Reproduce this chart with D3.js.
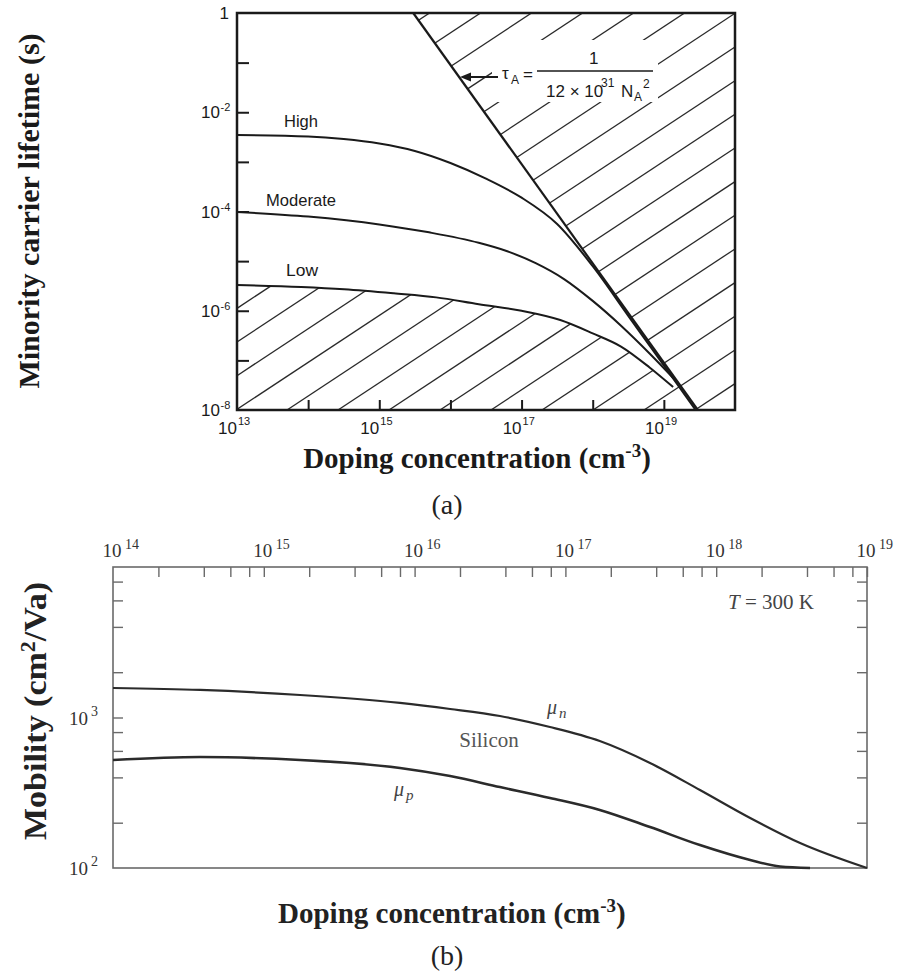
<!DOCTYPE html>
<html><head><meta charset="utf-8">
<script src="https://cdn.jsdelivr.net/npm/d3@7"></script>
<style>body{margin:0;background:#fff}svg{display:block}</style>
</head><body>
<svg id="c" width="899" height="975"></svg>
<script>
// ---------- DATA ----------
// (a) minority carrier lifetime vs doping
const highN   = [1e13, 1e14, 3.16e14, 1e15, 3.16e15, 1e16, 3.16e16, 1e17, 3.16e17, 1e18, 3.16e18, 1e19, 2.8e19];
const highTau = [3.47e-3, 3.24e-3, 2.88e-3, 2.34e-3, 1.66e-3, 9.5e-4, 4.6e-4, 1.9e-4, 5.6e-5, 7.9e-6, 7.9e-7, 7.9e-8, 1.0e-8];
const modN    = [1e13, 1e14, 1e15, 5e15, 2.5e16, 6.3e16, 1.58e17, 4e17, 1e18, 2.5e18, 6.3e18, 1.58e19];
const modTau  = [9.8e-5, 7.9e-5, 5.5e-5, 3.8e-5, 2.34e-5, 1.58e-5, 9.1e-6, 4.3e-6, 1.58e-6, 5.0e-7, 1.38e-7, 3.5e-8];
const lowN    = [1e13, 8e13, 3.2e14, 1.6e15, 6.3e15, 2.5e16, 1e17, 3.5e17, 1e18, 2.5e18, 6.3e18, 1.35e19];
const lowTau  = [3.3e-6, 3.0e-6, 2.7e-6, 2.24e-6, 1.86e-6, 1.35e-6, 1.0e-6, 6.5e-7, 3.5e-7, 1.9e-7, 7.2e-8, 2.9e-8];
const augerN   = [3e15, 3e19];
const augerTau = [1, 1e-8];
const curveLabelsA = ["High", "Moderate", "Low"];
const yTicksA = [-2, -4, -6, -8];           // labelled exponents (plus "1")
const xTicksA = [13, 15, 17, 19];           // labelled exponents
// (b) mobility vs doping, T = 300 K
const muNN = [1e14, 3.78e14, 1.74e15, 8.0e15, 1.72e16, 3.68e16, 7.9e16, 1.69e17, 3.64e17, 7.8e17, 1.68e18, 3.6e18, 1e19];
const muNV = [1570, 1524, 1411, 1249, 1139, 1023, 865, 698, 499, 330, 215, 146.6, 100];
const muPN = [1e14, 3.78e14, 1.74e15, 3.73e15, 8.0e15, 1.72e16, 3.68e16, 7.9e16, 1.69e17, 3.64e17, 7.8e17, 1.68e18, 2.65e18, 4.19e18];
const muPV = [522, 546, 522, 498, 462, 408, 345, 292, 243, 187, 142, 113, 102.3, 100];
const xTicksB = [14, 15, 16, 17, 18, 19];
const yTicksB = [2, 3];

// ---------- DRAW ----------
const svg = d3.select("#c");
const SANS = "'Liberation Sans', Arial, sans-serif";
const SERIF = "'Liberation Serif', 'Times New Roman', serif";
const zip = (a, b) => a.map((v, i) => [v, b[i]]);

// ===== (a) =====
const xA = d3.scaleLog().domain([1e13, 1e20]).range([237, 735]);
const yA = d3.scaleLog().domain([1e-8, 1]).range([410, 13]);
const ink = "#1a1a1a";
const gA = svg.append("g");
svg.append("defs").append("clipPath").attr("id", "clipA")
  .append("rect").attr("x", 237).attr("y", 13).attr("width", 498).attr("height", 397);

// hatch
const hatch = gA.append("g").attr("clip-path", "url(#clipA)");
const hx = d3.range(-14, 11).map(k => 287 + 51 * k);
hatch.selectAll("line").data(hx).join("line")
  .attr("x1", d => d).attr("y1", 410).attr("x2", d => d + 640).attr("y2", 410 - 0.66 * 640)
  .attr("stroke", "#2a2a2a").attr("stroke-width", 1.3);

const lineA = d3.line().x(d => xA(d[0])).y(d => yA(d[1])).curve(d3.curveMonotoneX);
const lowData = zip(lowN, lowTau);
// un-hatched region: above Low curve and left of Auger line
const p0 = [xA(augerN[0]), yA(augerTau[0])], p1 = [xA(augerN[1]), yA(augerTau[1])];
const xEnd = xA(lowN[lowN.length - 1]);
const tA = (xEnd - p0[0]) / (p1[0] - p0[0]);
const pA = [xEnd, p0[1] + tA * (p1[1] - p0[1])];
gA.append("path")
  .attr("d", lineA(lowData) + `L${pA[0]},${pA[1]}L${p0[0]},${p0[1]}L${xA(1e13)},${yA(1)}Z`)
  .attr("fill", "#fff").attr("clip-path", "url(#clipA)");

// white box behind formula
gA.append("rect").attr("x", 492).attr("y", 40).attr("width", 166).attr("height", 62).attr("fill", "#fff");

// curves
[[highN, highTau], [modN, modTau], [lowN, lowTau]].forEach(([n, t]) => {
  gA.append("path").attr("d", lineA(zip(n, t))).attr("fill", "none")
    .attr("stroke", ink).attr("stroke-width", 2);
});
gA.append("path").attr("d", d3.line().x(d => xA(d[0])).y(d => yA(d[1]))(zip(augerN, augerTau)))
  .attr("stroke", ink).attr("stroke-width", 2.2).attr("fill", "none");

// axes ticks
const decA = d3.range(-7, 0).map(e => Math.pow(10, e));
const axL = gA.append("g").attr("transform", `translate(${xA(1e13)},0)`)
  .call(d3.axisLeft(yA).tickValues(decA).tickSizeInner(-12).tickSizeOuter(0).tickFormat(""));
axL.select(".domain").remove();
axL.selectAll("line").attr("stroke", ink).attr("stroke-width", 2);
const decX = d3.range(14, 20).map(e => Math.pow(10, e));
const axB = gA.append("g").attr("transform", `translate(0,${yA(1e-8)})`)
  .call(d3.axisBottom(xA).tickValues(decX).tickSizeInner(-10).tickSizeOuter(0).tickFormat(""));
axB.select(".domain").remove();
axB.selectAll("line").attr("stroke", ink).attr("stroke-width", 2);

// frame
gA.append("rect").attr("x", 237).attr("y", 13).attr("width", 498).attr("height", 397)
  .attr("fill", "none").attr("stroke", ink).attr("stroke-width", 2.5);

// y tick labels
gA.append("text").attr("x", 229).attr("y", yA(1) + 6).attr("text-anchor", "end")
  .attr("font-family", SANS).attr("font-size", 17).attr("fill", ink).text("1");
yTicksA.forEach(e => {
  const y = yA(Math.pow(10, e));
  gA.append("text").attr("x", 220).attr("y", y + 6).attr("text-anchor", "end")
    .attr("font-family", SANS).attr("font-size", 17).attr("fill", ink).text("10");
  gA.append("text").attr("x", 220.5).attr("y", y - 1)
    .attr("font-family", SANS).attr("font-size", 11).attr("fill", ink).text(String(e));
});
// x tick labels
xTicksA.forEach(e => {
  const x = xA(Math.pow(10, e));
  gA.append("text").attr("x", x).attr("y", 434).attr("text-anchor", "end")
    .attr("font-family", SANS).attr("font-size", 17).attr("fill", ink).text("10");
  gA.append("text").attr("x", x + 1).attr("y", 425)
    .attr("font-family", SANS).attr("font-size", 11).attr("fill", ink).text(String(e));
});
// curve labels
curveLabelsA.forEach((t, i) => {
  gA.append("text").attr("x", [284, 266, 286][i]).attr("y", [127, 206, 276][i])
    .attr("font-family", SANS).attr("font-size", 17).attr("fill", ink)
    .attr("textLength", [34, 70, 32][i]).attr("lengthAdjust", "spacingAndGlyphs").text(t);
});

// formula + arrow
gA.append("line").attr("x1", 468).attr("y1", 77).attr("x2", 498).attr("y2", 77)
  .attr("stroke", ink).attr("stroke-width", 2);
gA.append("path").attr("d", "M460,77L471,72.5L471,81.5Z").attr("fill", ink);
const ft = (x, y, s, t) => gA.append("text").attr("x", x).attr("y", y)
  .attr("font-family", SANS).attr("font-size", s).attr("fill", ink).text(t);
ft(502, 79, 17, "τ");
ft(511, 84, 12, "A");
ft(523, 80, 17, "=");
gA.append("line").attr("x1", 537).attr("y1", 71).attr("x2", 653).attr("y2", 71)
  .attr("stroke", ink).attr("stroke-width", 1.6);
ft(589, 64, 17, "1");
ft(546, 97, 17, "12 × 10");
ft(601, 87, 12, "31");
ft(621, 97, 17, "N");
ft(634, 101, 12, "A");
ft(643, 88, 12, "2");

// titles (a)
const ttA = svg.append("text").attr("x", 477).attr("y", 468).attr("text-anchor", "middle")
  .attr("font-family", SERIF).attr("font-weight", "bold").attr("font-size", 29).attr("fill", ink);
ttA.append("tspan").text("Doping concentration (cm");
ttA.append("tspan").attr("dy", -11).attr("font-size", 19).text("-3");
ttA.append("tspan").attr("dy", 11).text(")");
svg.append("text").attr("transform", "translate(39,211) rotate(-90)").attr("text-anchor", "middle")
  .attr("font-family", SERIF).attr("font-weight", "bold").attr("font-size", 30).attr("fill", ink)
  .text("Minority carrier lifetime (s)");
svg.append("text").attr("x", 447).attr("y", 514).attr("text-anchor", "middle")
  .attr("font-family", SERIF).attr("font-size", 28).attr("fill", "#222").text("(a)");

// ===== (b) =====
const xB = d3.scaleLog().domain([1e14, 1e19]).range([113, 867]);
const yB = d3.scaleLog().domain([100, 1e4]).range([868, 567]);
const gB = svg.append("g");
const inkB = "#2b2b2b", frameB = "#6a6a6a";

const minorX = [];
d3.range(14, 19).forEach(e => [2, 4, 6, 8, 10].forEach(m => minorX.push(m * Math.pow(10, e))));
const axT = gB.append("g").attr("transform", `translate(0,${yB(1e4)})`)
  .call(d3.axisTop(xB).tickValues(minorX).tickSizeInner(-10).tickSizeOuter(0).tickFormat(""));
axT.select(".domain").remove();
axT.selectAll("line").attr("stroke", frameB).attr("stroke-width", 1.4);
const minorYL = [200, 400, 600, 800, 1000, 2000, 4000, 6000, 8000];
const axLB = gB.append("g").attr("transform", `translate(${xB(1e14)},0)`)
  .call(d3.axisLeft(yB).tickValues(minorYL).tickSizeInner(-10).tickSizeOuter(0).tickFormat(""));
axLB.select(".domain").remove();
axLB.selectAll("line").attr("stroke", frameB).attr("stroke-width", 1.4);
const minorYR = [200, 400, 600, 800, 2000, 4000, 6000, 8000];
const axRB = gB.append("g").attr("transform", `translate(${xB(1e19)},0)`)
  .call(d3.axisRight(yB).tickValues(minorYR).tickSizeInner(-10).tickSizeOuter(0).tickFormat(""));
axRB.select(".domain").remove();
axRB.selectAll("line").attr("stroke", frameB).attr("stroke-width", 1.4);

gB.append("rect").attr("x", 113).attr("y", 567).attr("width", 754).attr("height", 301)
  .attr("fill", "none").attr("stroke", frameB).attr("stroke-width", 1.6);

const lineB = d3.line().x(d => xB(d[0])).y(d => yB(d[1])).curve(d3.curveMonotoneX);
gB.append("path").attr("d", lineB(zip(muNN, muNV))).attr("fill", "none").attr("stroke", inkB).attr("stroke-width", 2.2);
gB.append("path").attr("d", lineB(zip(muPN, muPV))).attr("fill", "none").attr("stroke", inkB).attr("stroke-width", 2.6);

// tick labels (b)
xTicksB.forEach(e => {
  const x = xB(Math.pow(10, e));
  gB.append("text").attr("x", x - 1).attr("y", 557).attr("text-anchor", "middle")
    .attr("font-family", SERIF).attr("font-size", 19).attr("fill", "#333").text("10");
  gB.append("text").attr("x", x + 12).attr("y", 549)
    .attr("font-family", SERIF).attr("font-size", 14).attr("fill", "#333").text(String(e));
});
yTicksB.forEach(e => {
  const y = yB(Math.pow(10, e));
  gB.append("text").attr("x", 88).attr("y", y + 7).attr("text-anchor", "end")
    .attr("font-family", SERIF).attr("font-size", 19).attr("fill", "#333").text("10");
  gB.append("text").attr("x", 91).attr("y", y - 2)
    .attr("font-family", SERIF).attr("font-size", 14).attr("fill", "#333").text(String(e));
});

// in-plot labels
const tT = gB.append("text").attr("x", 728).attr("y", 609)
  .attr("font-family", SERIF).attr("font-size", 21).attr("fill", "#444");
tT.append("tspan").attr("font-style", "italic").text("T");
tT.append("tspan").text(" = 300 K");
gB.append("text").attr("x", 489).attr("y", 747).attr("text-anchor", "middle")
  .attr("font-family", SERIF).attr("font-size", 21).attr("fill", "#555").text("Silicon");
const mu = (x, y, sub) => {
  const t = gB.append("text").attr("x", x).attr("y", y)
    .attr("font-family", SERIF).attr("font-style", "italic").attr("font-size", 20).attr("fill", "#444");
  t.append("tspan").text("μ");
  t.append("tspan").attr("dx", 2).attr("dy", 4).attr("font-size", 15).text(sub);
};
mu(547, 714, "n");
mu(394, 796, "p");

// titles (b)
const ttB = svg.append("text").attr("x", 278).attr("y", 923)
  .attr("font-family", SERIF).attr("font-weight", "bold").attr("font-size", 29).attr("fill", "#222");
ttB.append("tspan").text("Doping concentration (cm");
ttB.append("tspan").attr("dy", -11).attr("font-size", 19).text("-3");
ttB.append("tspan").attr("dy", 11).text(")");
const tyB = svg.append("text").attr("transform", "translate(46,711) rotate(-90)").attr("text-anchor", "middle")
  .attr("font-family", SERIF).attr("font-weight", "bold").attr("font-size", 31).attr("fill", "#222")
  .attr("textLength", 258).attr("lengthAdjust", "spacingAndGlyphs");
tyB.append("tspan").text("Mobility (cm");
tyB.append("tspan").attr("dy", -11).attr("font-size", 20).text("2");
tyB.append("tspan").attr("dy", 11).text("/Va)");
svg.append("text").attr("x", 447).attr("y", 965).attr("text-anchor", "middle")
  .attr("font-family", SERIF).attr("font-size", 28).attr("fill", "#222").text("(b)");
</script>
</body></html>
